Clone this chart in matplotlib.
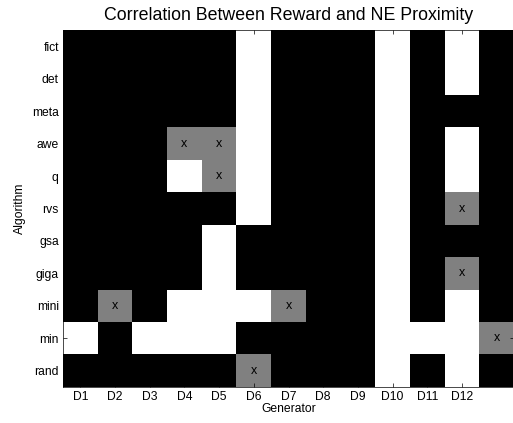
import numpy as np
import matplotlib
matplotlib.use("Agg")
from matplotlib import pyplot as plt

plt.rcParams['font.family'] = ['Liberation Sans', 'DejaVu Sans']

# rows of the grid (top to bottom) and column labels
algorithms = ["fict", "det", "meta", "awe", "q", "rvs", "gsa", "giga", "mini", "min", "rand"]
generators = ["D1", "D2", "D3", "D4", "D5", "D6", "D7", "D8", "D9", "D10", "D11", "D12"]

# 0 = black, 0.5 = grey (marked x), 1 = white ; 13 columns, last one unlabeled
fict = [0, 0, 0, 0, 0, 1, 0, 0, 0, 1, 0, 1, 0]
det  = [0, 0, 0, 0, 0, 1, 0, 0, 0, 1, 0, 1, 0]
meta = [0, 0, 0, 0, 0, 1, 0, 0, 0, 1, 0, 0, 0]
awe  = [0, 0, 0, 0.5, 0.5, 1, 0, 0, 0, 1, 0, 1, 0]
q    = [0, 0, 0, 1, 0.5, 1, 0, 0, 0, 1, 0, 1, 0]
rvs  = [0, 0, 0, 0, 0, 1, 0, 0, 0, 1, 0, 0.5, 0]
gsa  = [0, 0, 0, 0, 1, 0, 0, 0, 0, 1, 0, 0, 0]
giga = [0, 0, 0, 0, 1, 0, 0, 0, 0, 1, 0, 0.5, 0]
mini = [0, 0.5, 0, 1, 1, 1, 0.5, 0, 0, 1, 0, 1, 0]
min_ = [1, 0, 1, 1, 1, 0, 0, 0, 0, 1, 1, 1, 0.5]
rand = [0, 0, 0, 0, 0, 0.5, 0, 0, 0, 1, 0, 1, 0]

data = np.array([fict, det, meta, awe, q, rvs, gsa, giga, mini, min_, rand])

fig = plt.figure(figsize=(5.13, 4.23), dpi=100)
ax = fig.add_axes([63/513, 36/423, 451/513, 357/423])

ax.imshow(data, cmap="gray", vmin=0, vmax=1, aspect="auto", interpolation="nearest")

# mark the grey cells
for i in range(data.shape[0]):
    for j in range(data.shape[1]):
        if data[i, j] == 0.5:
            ax.text(j, i, "x", ha="center", va="center", fontsize=9, color="black")

ax.set_xticks(range(len(generators)))
ax.set_xticklabels(generators, fontsize=8.7)
ax.set_yticks(range(len(algorithms)))
ax.set_yticklabels(algorithms, fontsize=8.7)
ax.set_xlim(-0.5, data.shape[1] - 0.5)
ax.set_ylim(data.shape[0] - 0.5, -0.5)

ax.tick_params(direction="in", top=True, right=True, length=3, width=0.5, pad=3)
for s in ax.spines.values():
    s.set_linewidth(0.5)

ax.set_title("Correlation Between Reward and NE Proximity", fontsize=12.8, pad=7)
ax.set_xlabel("Generator", fontsize=8.7, labelpad=0)
ax.set_ylabel("Algorithm", fontsize=8.7, labelpad=4)

fig.savefig("out.png", dpi=100)
